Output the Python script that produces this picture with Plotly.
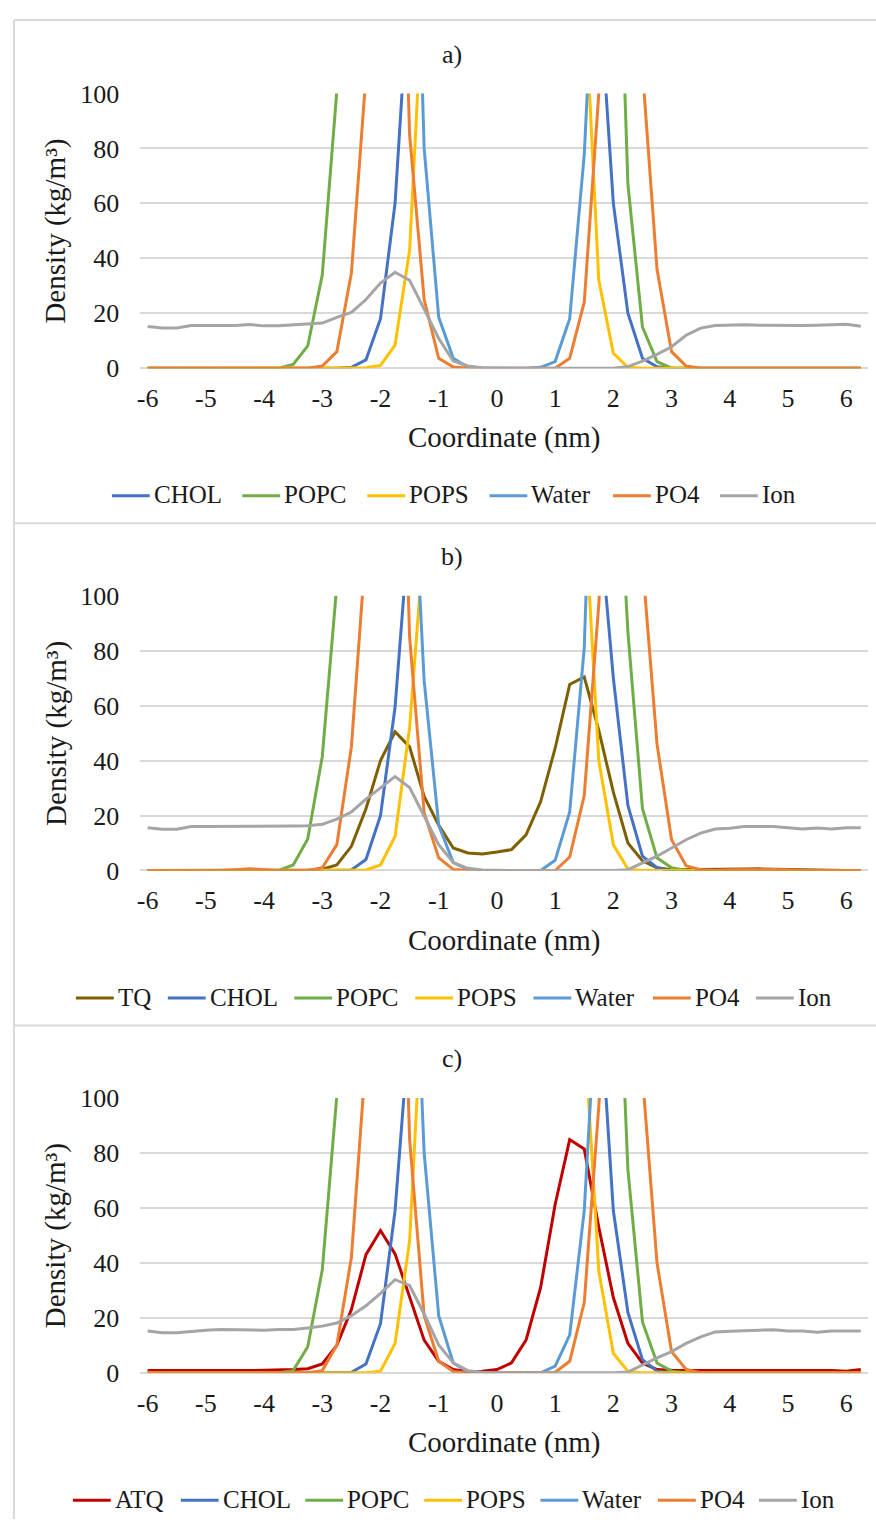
import plotly.graph_objects as go

# ---------------- data ----------------
X = [-6, -5.75, -5.5, -5.25, -5, -4.75, -4.5, -4.25, -4, -3.75,
     -3.5, -3.25, -3, -2.75, -2.5, -2.25, -2, -1.75, -1.5, -1.25,
     -1, -0.75, -0.5, -0.25, 0, 0.25, 0.5, 0.75, 1, 1.25,
     1.5, 1.75, 2, 2.25, 2.5, 2.75, 3, 3.25, 3.5, 3.75,
     4, 4.25, 4.5, 4.75, 5, 5.25, 5.5, 5.75, 6, 6.25]
X_TICKS = [-6, -5, -4, -3, -2, -1, 0, 1, 2, 3, 4, 5, 6]
Y_TICKS = [0, 20, 40, 60, 80, 100]

# ---- panel a ----
CHOL_A = [0]*10 + [0, 0, 0, 0, 0.3, 3, 18, 60, 144, 260] + \
    [340, 380, 400, 410, 410, 400, 390, 370, 330, 280] + \
    [210, 140, 60, 20, 3.6, 0.5, 0, 0, 0, 0] + [0]*10
POPC_A = [0]*10 + [1.4, 8.1, 34, 101, 220, 330, 420, 470, 480, 470] + \
    [450, 430, 420, 420, 420, 420, 430, 450, 470, 480] + \
    [470, 400, 228, 67, 15, 2.4, 0, 0, 0, 0] + [0]*10
POPS_A = [0]*10 + [0, 0, 0, 0, 0, 0.2, 1, 8.4, 43, 147] + \
    [240, 300, 330, 340, 340, 340, 330, 310, 270, 220] + \
    [139, 32, 5.4, 0.3, 0, 0, 0, 0, 0, 0] + [0]*10
WATER_A = [1000]*10 + [1000, 1000, 990, 960, 900, 780, 600, 420, 256, 80] + \
    [18.5, 3.6, 0.3, 0, 0, 0, 0, 0.3, 2.4, 18] + \
    [77.7, 187, 400, 620, 800, 920, 980, 1000, 1000, 1000] + [1000]*10
PO4_A = [0]*10 + [0, 0, 0.8, 6, 34.6, 106.5, 250, 260, 85, 25] + \
    [3.6, 0.4, 0, 0, 0, 0, 0, 0, 0, 3.6] + \
    [24, 100, 250, 280, 108.7, 36, 6, 0.8, 0, 0] + [0]*10
ION_A = [15.2, 14.6, 14.6, 15.5, 15.5, 15.5, 15.5, 15.9, 15.4, 15.4] + \
    [15.8, 16.0, 16.4, 18.5, 20.3, 25, 31, 34.9, 32, 21.5] + \
    [10.8, 2.6, 0.8, 0.2, 0, 0, 0, 0, 0, 0] + \
    [0, 0, 0, 0.6, 2.6, 5.0, 7.8, 12, 14.6, 15.5] + \
    [15.6, 15.8, 15.6, 15.5, 15.5, 15.5, 15.6, 15.8, 16, 15.3]

# ---- panel b ----
TQ_B = [0]*10 + [0, 0, 0.5, 2, 8.8, 22.5, 40, 50.5, 45, 27] + \
    [16.5, 8.2, 6.4, 6, 6.7, 7.6, 13, 25, 44.5, 67.7] + \
    [70.5, 51, 28.5, 10, 3.5, 1, 0.3, 0.3, 0.3, 0.4] + \
    [0.5, 0.5, 0.6, 0.5, 0.4, 0.2, 0, 0, 0, 0]
CHOL_B = [0]*10 + [0, 0, 0, 0, 0.2, 4, 20, 59.4, 144, 260] + \
    [340, 380, 400, 410, 410, 400, 390, 370, 330, 280] + \
    [200, 130, 70, 23.7, 5.2, 1, 0, 0, 0, 0] + [0]*10
POPC_B = [0]*10 + [2, 11.5, 41.5, 104, 220, 330, 420, 470, 480, 470] + \
    [450, 430, 420, 420, 420, 420, 430, 450, 470, 480] + \
    [450, 330, 183, 86.8, 22.5, 4.6, 1, 0, 0, 0] + [0]*10
POPS_B = [0]*10 + [0, 0, 0, 0, 0, 0.2, 2, 12.4, 52, 152] + \
    [240, 300, 330, 340, 340, 340, 330, 310, 270, 220] + \
    [134, 40, 9.4, 0.5, 0, 0, 0, 0, 0, 0] + [0]*10
WATER_B = [1000]*10 + [1000, 1000, 990, 960, 900, 780, 600, 400, 174, 69] + \
    [16.5, 2.9, 0.4, 0, 0, 0, 0, 0, 3.7, 21.3] + \
    [81, 170, 400, 620, 800, 920, 980, 1000, 1000, 1000] + [1000]*10
PO4_B = [0, 0, 0, 0, 0, 0, 0.3, 0.6, 0.3, 0] + \
    [0, 0, 1, 9.4, 45, 118, 250, 260, 85, 21] + \
    [4.6, 0.4, 0, 0, 0, 0, 0, 0, 0, 4.9] + \
    [27.3, 97, 250, 280, 112, 46, 11.2, 1.7, 0.3, 0] + \
    [0.3, 0.4, 0.5, 0.4, 0.3, 0, 0, 0, 0, 0]
ION_B = [15.6, 15, 15, 16, 16, 16, 16, 16, 16, 16] + \
    [16.2, 16.3, 16.8, 18.7, 21.3, 26, 30.2, 34.2, 30.2, 20] + \
    [9.4, 2.9, 0.8, 0.2, 0, 0, 0, 0, 0, 0] + \
    [0, 0, 0, 0.3, 2.9, 5.2, 8.2, 11.2, 13.6, 15.1] + \
    [15.4, 16, 16, 16, 15.6, 15.1, 15.5, 15.1, 15.6, 15.6]

# ---- panel c ----
ATQ_C = [0.8, 0.8, 0.8, 0.7, 0.6, 0.8, 0.8, 0.8, 0.9, 1.0] + \
    [1.2, 1.5, 3.2, 10, 23, 43, 51.8, 43.3, 28, 11.9] + \
    [4.2, 1.2, 0.4, 0.6, 1.2, 3.6, 11.9, 31, 61.3, 84.9] + \
    [81.5, 53, 27.4, 10.7, 3.6, 1.2, 0.9, 0.9, 0.9, 0.9] + \
    [0.9, 0.9, 0.9, 0.9, 0.9, 0.9, 0.9, 0.8, 0.6, 1.2]
CHOL_C = [0]*10 + [0, 0, 0, 0, 0.2, 3.2, 17.9, 59, 146, 260] + \
    [340, 380, 400, 410, 410, 400, 390, 370, 330, 280] + \
    [210, 141, 59, 22, 4.8, 0.6, 0, 0, 0, 0] + [0]*10
POPC_C = [0]*10 + [0.8, 9.5, 37.5, 101, 220, 330, 420, 470, 480, 470] + \
    [450, 430, 420, 420, 420, 420, 430, 450, 470, 480] + \
    [460, 370, 201, 74, 18.5, 3.6, 0.6, 0, 0, 0] + [0]*10
POPS_C = [0]*10 + [0, 0, 0, 0, 0, 0, 0.6, 10.7, 48, 150] + \
    [240, 300, 330, 340, 340, 340, 330, 310, 270, 220] + \
    [126, 37, 7.1, 0.5, 0, 0, 0, 0, 0, 0] + [0]*10
WATER_C = [1000]*10 + [1000, 1000, 990, 960, 900, 780, 600, 420, 206, 80] + \
    [20.8, 3.6, 0.4, 0, 0, 0, 0, 0, 2.4, 13.7] + \
    [59, 179, 400, 620, 800, 920, 980, 1000, 1000, 1000] + [1000]*10
PO4_C = [0]*10 + [0, 0, 0.8, 10, 42, 115, 250, 260, 85, 20.8] + \
    [4.2, 0.5, 0, 0, 0, 0, 0, 0, 0.2, 4.2] + \
    [25.6, 97, 250, 280, 108, 40, 7.7, 1.2, 0, 0] + [0]*10
ION_C = [15.2, 14.6, 14.6, 15.1, 15.5, 15.8, 15.7, 15.4, 15.5, 15.8] + \
    [15.8, 16.3, 17, 18.1, 20.8, 24.4, 28.9, 33.9, 31.8, 21.4] + \
    [10.1, 3.6, 0.8, 0.2, 0, 0, 0, 0, 0, 0] + \
    [0, 0, 0, 0.3, 3, 5.4, 7.7, 10.7, 13.1, 14.9] + \
    [15.1, 15.2, 15.5, 15.7, 15.2, 15.2, 14.8, 15.2, 15.2, 15.2]

COLORS = {"CHOL": "#4472C4", "POPC": "#70AD47", "POPS": "#FFC000",
          "Water": "#5B9BD5", "PO4": "#ED7D31", "Ion": "#A5A5A5",
          "TQ": "#7F6000", "ATQ": "#C00000"}

PANELS = [
    {"title": "a)", "series": [("CHOL", CHOL_A), ("POPC", POPC_A), ("POPS", POPS_A),
                               ("Water", WATER_A), ("PO4", PO4_A), ("Ion", ION_A)]},
    {"title": "b)", "series": [("TQ", TQ_B), ("CHOL", CHOL_B), ("POPC", POPC_B), ("POPS", POPS_B),
                               ("Water", WATER_B), ("PO4", PO4_B), ("Ion", ION_B)]},
    {"title": "c)", "series": [("ATQ", ATQ_C), ("CHOL", CHOL_C), ("POPC", POPC_C), ("POPS", POPS_C),
                               ("Water", WATER_C), ("PO4", PO4_C), ("Ion", ION_C)]},
]

# ---------------- layout helpers ----------------
W, H = 876, 1534
FONT = "Liberation Serif"
TXT = "#1a1a1a"
LEG_SIZE = 25

# Times/Liberation Serif advance widths (per 1000 em) for legend layout
ADV = {"C": 667, "H": 722, "O": 722, "L": 611, "P": 556, "S": 556, "W": 944,
       "a": 444, "t": 278, "e": 444, "r": 333, "4": 500, "I": 333, "o": 500,
       "n": 500, "T": 611, "Q": 722, "A": 722}


def text_w(s, size):
    return sum(ADV.get(ch, 500) for ch in s) * size / 1000.0


def fx(p):
    return p / W


def fy(p):
    return 1 - p / H


PLOT_L, PLOT_R = 137, 868
PLOT_TOPS = [81, 593, 1105]
PLOT_H = 280
PANEL_STEP = 512
LEG_CX = 451
LEG_LINE, LEG_TXTGAP = 38, 3
LEG_ITEMGAPS = [22, 18, 16]

fig = go.Figure()
layout = dict(width=W, height=H, margin=dict(l=0, r=0, t=0, b=0),
              paper_bgcolor="white", plot_bgcolor="white", showlegend=False,
              font=dict(family=FONT, size=26, color=TXT),
              annotations=[], shapes=[])

for i, panel in enumerate(PANELS):
    sfx = "" if i == 0 else str(i + 1)
    top = PLOT_TOPS[i]
    bot = top + PLOT_H
    off = i * PANEL_STEP
    for name, vals in panel["series"]:
        fig.add_trace(go.Scatter(
            x=X, y=vals, mode="lines", name=name,
            line=dict(color=COLORS[name], width=3),
            xaxis="x" + sfx, yaxis="y" + sfx,
            hovertemplate=name + ": %{y}<extra></extra>"))
    layout["xaxis" + sfx] = dict(
        domain=[fx(PLOT_L), fx(PLOT_R)], range=[-6.125, 6.375],
        anchor="y" + sfx, tickmode="array", tickvals=X_TICKS,
        ticktext=[str(t) for t in X_TICKS], showgrid=False, zeroline=False,
        showline=False, ticks="", ticklabelstandoff=12,
        tickfont=dict(family=FONT, size=26, color=TXT))
    layout["yaxis" + sfx] = dict(
        domain=[fy(bot), fy(top)], range=[0, 100], anchor="x" + sfx,
        tickmode="array", tickvals=Y_TICKS, showgrid=True,
        gridcolor="#D9D9D9", gridwidth=1.5, zeroline=True,
        zerolinecolor="#D9D9D9", zerolinewidth=1.5, showline=False,
        ticks="", ticklabelstandoff=20,
        tickfont=dict(family=FONT, size=26, color=TXT))
    layout["annotations"] += [
        dict(text=panel["title"], x=fx(450), y=fy(41 + off), xref="paper", yref="paper",
             showarrow=False, xanchor="center", yanchor="middle",
             font=dict(family=FONT, size=26, color=TXT)),
        dict(text="Coordinate (nm)", x=fx(502), y=fy(432 + off), xref="paper", yref="paper",
             showarrow=False, xanchor="center", yanchor="middle",
             font=dict(family=FONT, size=29, color=TXT)),
        dict(text="Density (kg/m³)", x=fx(52), y=fy((top + bot) / 2), xref="paper", yref="paper",
             showarrow=False, xanchor="center", yanchor="middle", textangle=-90,
             font=dict(family=FONT, size=29, color=TXT)),
    ]
    # legend row (line sample + label) laid out like the Excel legend
    gap = LEG_ITEMGAPS[i]
    names = [n for n, _ in panel["series"]]
    widths = [LEG_LINE + LEG_TXTGAP + text_w(n, LEG_SIZE) for n in names]
    total = sum(widths) + gap * (len(names) - 1)
    xcur = LEG_CX - total / 2
    ly = 490 + off
    for n, wdt in zip(names, widths):
        layout["shapes"].append(dict(
            type="line", xref="paper", yref="paper",
            x0=fx(xcur), x1=fx(xcur + LEG_LINE), y0=fy(ly + 1), y1=fy(ly + 1),
            line=dict(color=COLORS[n], width=3)))
        layout["annotations"].append(dict(
            text=n, x=fx(xcur + LEG_LINE + LEG_TXTGAP), y=fy(ly), xref="paper", yref="paper",
            showarrow=False, xanchor="left", yanchor="middle", borderpad=0,
            font=dict(family=FONT, size=LEG_SIZE, color=TXT)))
        xcur += wdt + gap

BORDER = dict(color="#D9D9D9", width=2)
layout["shapes"] += [
    dict(type="line", xref="paper", yref="paper", x0=fx(10), x1=1, y0=fy(6), y1=fy(6), line=BORDER),
    dict(type="line", xref="paper", yref="paper", x0=fx(10), x1=fx(10), y0=fy(6), y1=0, line=BORDER),
    dict(type="line", xref="paper", yref="paper", x0=fx(10), x1=1, y0=fy(519), y1=fy(519), line=BORDER),
    dict(type="line", xref="paper", yref="paper", x0=fx(10), x1=1, y0=fy(1031), y1=fy(1031), line=BORDER),
]

fig.update_layout(**layout)
fig.write_html("out.html",
               post_script="document.body.style.margin='0';document.body.style.overflow='hidden';")
